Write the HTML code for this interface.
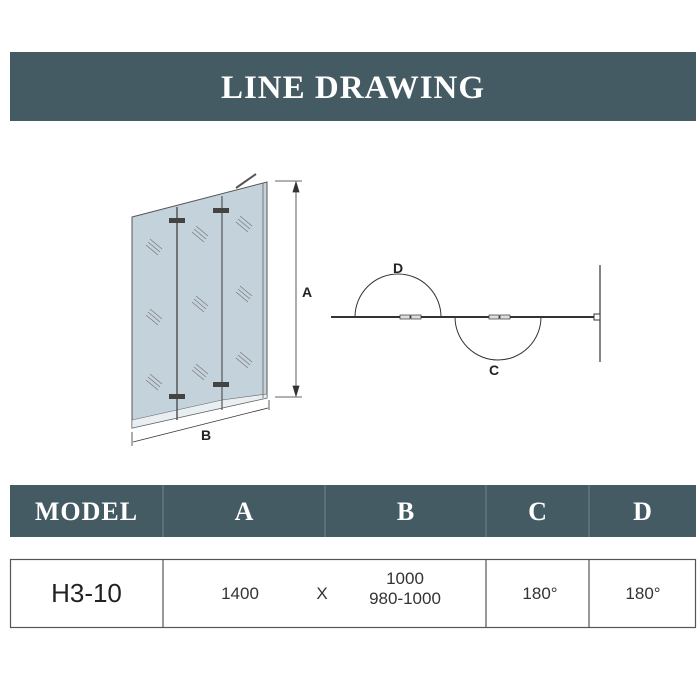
<!DOCTYPE html>
<html><head><style>
body{margin:0;width:700px;height:700px;background:#fff;position:relative;overflow:hidden;font-family:"Liberation Sans",sans-serif}
.bar{position:absolute;left:10px;width:686px;background:#455b63;color:#fff;font-family:"Liberation Serif",serif;font-weight:bold}
.t{position:absolute;text-align:center}
</style></head><body>
<div class="bar" style="top:52px;height:69px;text-align:center;line-height:72px;font-size:33px;letter-spacing:1px">LINE DRAWING</div>
<div class="bar" style="top:485px;height:52px;font-size:26px">
 <div class="t" style="left:0;width:153px;top:12px;letter-spacing:1px">MODEL</div>
 <div class="t" style="left:153px;width:162px;top:12px">A</div>
 <div class="t" style="left:315px;width:161px;top:12px">B</div>
 <div class="t" style="left:476px;width:103px;top:12px">C</div>
 <div class="t" style="left:579px;width:107px;top:12px">D</div>
</div>
<svg width="700" height="700" style="position:absolute;left:0;top:0">
 <g stroke="#8aa0a8" stroke-width="0.6">
  <line x1="163" y1="485" x2="163" y2="537"/><line x1="325" y1="485" x2="325" y2="537"/>
  <line x1="486" y1="485" x2="486" y2="537"/><line x1="589" y1="485" x2="589" y2="537"/>
 </g>
 <g fill="none" stroke="#555" stroke-width="1.2">
  <rect x="10.5" y="559.5" width="685" height="68"/>
  <line x1="163" y1="559" x2="163" y2="628"/><line x1="486" y1="559" x2="486" y2="628"/><line x1="589" y1="559" x2="589" y2="628"/>
 </g>
 <!-- door -->
 <polygon points="132,217 267,182 267,398 132,428" fill="#c4d2dc" stroke="#555" stroke-width="1"/>
 <polygon points="132,420 177,410 222,400 267,394 267,398 132,428" fill="#e8eef2" stroke="#666" stroke-width="0.6"/>
 <line x1="177" y1="207" x2="177" y2="420" stroke="#555" stroke-width="1.5"/>
 <line x1="222" y1="196" x2="222" y2="410" stroke="#555" stroke-width="1.2"/>
 <line x1="263" y1="183" x2="263" y2="398" stroke="#666" stroke-width="0.8"/>
 <line x1="236" y1="188" x2="256" y2="174" stroke="#555" stroke-width="2"/>
 <g fill="#444"><rect x="169" y="218" width="16" height="5"/><rect x="169" y="394" width="16" height="5"/>
  <rect x="213" y="208" width="16" height="5"/><rect x="213" y="382" width="16" height="5"/></g>
 <g stroke="#777" stroke-width="0.7">
  <path d="M146,245l12,10M148,242l12,10M150,239l12,10"/><path d="M146,315l12,10M148,312l12,10M150,309l12,10"/><path d="M146,380l12,10M148,377l12,10M150,374l12,10"/>
  <path d="M192,232l12,10M194,229l12,10M196,226l12,10"/><path d="M192,302l12,10M194,299l12,10M196,296l12,10"/><path d="M192,370l12,10M194,367l12,10M196,364l12,10"/>
  <path d="M236,222l12,10M238,219l12,10M240,216l12,10"/><path d="M236,292l12,10M238,289l12,10M240,286l12,10"/><path d="M236,358l12,10M238,355l12,10M240,352l12,10"/>
 </g>
 <g stroke="#333" stroke-width="0.8" fill="#333">
  <line x1="275" y1="181" x2="302" y2="181"/><line x1="275" y1="397" x2="302" y2="397"/>
  <line x1="296" y1="183" x2="296" y2="395"/>
  <polygon points="296,182 293,192 299,192"/><polygon points="296,396 293,386 299,386"/>
  <line x1="132" y1="432" x2="132" y2="446"/><line x1="269" y1="400" x2="269" y2="410"/>
  <line x1="133" y1="442" x2="268" y2="408"/>
 </g>
 <!-- plan -->
 <g stroke="#333" fill="none">
  <line x1="331" y1="317" x2="597" y2="317" stroke-width="2"/>
  <line x1="600" y1="265" x2="600" y2="362" stroke-width="1.2"/>
  <path d="M355,317 A43,43 0 0 1 441,317" stroke-width="1"/>
  <path d="M455,317 A43,43 0 0 0 541,317" stroke-width="1"/>
  <rect x="594" y="314" width="6" height="6" fill="#fff" stroke-width="1"/>
  <rect x="400" y="315" width="10" height="4" fill="#ddd" stroke-width="0.7"/><rect x="411" y="315" width="10" height="4" fill="#ddd" stroke-width="0.7"/>
  <rect x="489" y="315" width="10" height="4" fill="#ddd" stroke-width="0.7"/><rect x="500" y="315" width="10" height="4" fill="#ddd" stroke-width="0.7"/>
 </g>
 <g fill="#222" font-family="Liberation Sans" font-weight="bold" font-size="14">
  <text x="393" y="273">D</text><text x="489" y="375">C</text>
  <text x="302" y="297">A</text><text x="201" y="440">B</text>
 </g>
</svg>
<div class="t" style="left:10px;width:153px;top:578px;font-size:26px;color:#222">H3-10</div>
<div class="t" style="left:200px;width:80px;top:584px;font-size:17px;color:#333">1400</div>
<div class="t" style="left:310px;width:24px;top:584px;font-size:17px;color:#333">X</div>
<div class="t" style="left:355px;width:100px;top:569px;font-size:17px;color:#333;line-height:20px">1000<br>980-1000</div>
<div class="t" style="left:500px;width:80px;top:584px;font-size:17px;color:#333">180°</div>
<div class="t" style="left:603px;width:80px;top:584px;font-size:17px;color:#333">180°</div>
</body></html>
